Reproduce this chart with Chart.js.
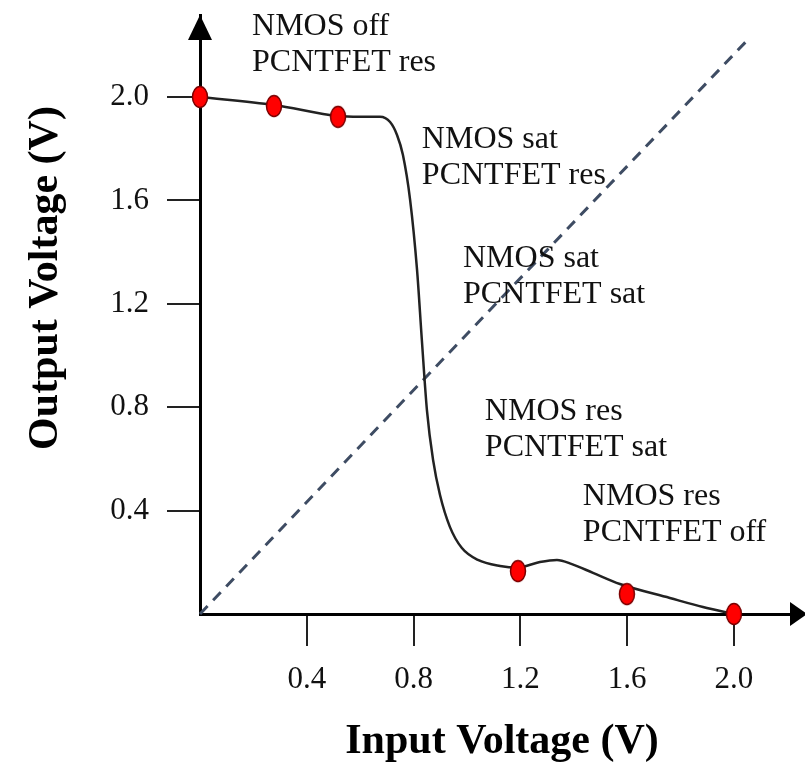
<!DOCTYPE html>
<html lang="en">
<head>
  <meta charset="UTF-8">
  <title>Transfer curve</title>
  <style>
    body { margin: 0; background: #fff; }
  </style>
</head>
<body>
  <canvas id="vtc" width="805" height="765"></canvas>

  <script src="https://cdn.jsdelivr.net/npm/chart.js"></script>
  <script>
    // transfer curve (V)
    const curveIn  = [0, 0.277, 0.517, 0.599, 0.674, 0.712, 0.738, 0.760, 0.787, 0.813, 0.831, 0.850, 0.873, 0.899, 0.936, 0.981, 1.041, 1.124, 1.191, 1.273, 1.337, 1.393, 1.472, 1.573, 1.760, 1.884, 2.0]
    const curveOut = [2.0, 1.969, 1.926, 1.923, 1.923, 1.903, 1.853, 1.776, 1.602, 1.331, 1.060, 0.789, 0.596, 0.460, 0.337, 0.255, 0.209, 0.186, 0.180, 0.201, 0.209, 0.193, 0.159, 0.116, 0.062, 0.027, 0]

    // red markers
    const markerIn  = [0, 0.277, 0.517, 1.191, 1.599, 2.0]
    const markerOut = [2.0, 1.965, 1.923, 0.166, 0.077, 0]

    // dashed reference line
    const diagIn  = [0, 2.06]
    const diagOut = [0, 2.23]

    const xTicks = [0.4, 0.8, 1.2, 1.6, 2.0]
    const yTicks = [0.4, 0.8, 1.2, 1.6, 2.0]

    const regionText = [
      ['NMOS off', 'PCNTFET res'],
      ['NMOS sat', 'PCNTFET res'],
      ['NMOS sat', 'PCNTFET sat'],
      ['NMOS res', 'PCNTFET sat'],
      ['NMOS res', 'PCNTFET off']
    ]

    const toXY = (xs, ys) => xs.map((v, i) => ({ x: v, y: ys[i] }))

    // where each region label starts (data units, first baseline)
    const regionAt = [[0.195, 2.24], [0.831, 1.803], [0.985, 1.342], [1.067, 0.75], [1.434, 0.422]]

    // oval marker like the original
    const oval = document.createElement('canvas')
    oval.width = 18
    oval.height = 24
    {
      const c = oval.getContext('2d')
      c.beginPath()
      c.ellipse(9, 12, 7.5, 10.5, 0, 0, Math.PI * 2)
      c.fillStyle = '#ff0000'
      c.fill()
      c.lineWidth = 1.5
      c.strokeStyle = '#7a0000'
      c.stroke()
    }

    const serif = '"Liberation Serif", "Times New Roman", serif'

    // arrows, axis titles and the region notes
    const decor = {
      id: 'decor',
      afterDatasetsDraw(chart) {
        const { ctx, chartArea: a, scales: { x, y } } = chart
        ctx.save()
        ctx.fillStyle = '#000'
        ctx.beginPath()
        ctx.moveTo(a.left, a.top)
        ctx.lineTo(a.left - 12, a.top + 25)
        ctx.lineTo(a.left + 12, a.top + 25)
        ctx.closePath()
        ctx.fill()
        ctx.beginPath()
        ctx.moveTo(a.right + 17, a.bottom)
        ctx.lineTo(a.right, a.bottom - 12)
        ctx.lineTo(a.right, a.bottom + 12)
        ctx.closePath()
        ctx.fill()

        ctx.fillStyle = '#111'
        ctx.font = '32px ' + serif
        ctx.textAlign = 'left'
        ctx.textBaseline = 'alphabetic'
        regionText.forEach((lines, i) => {
          const px = x.getPixelForValue(regionAt[i][0])
          const py = y.getPixelForValue(regionAt[i][1])
          lines.forEach((t, j) => ctx.fillText(t, px, py + j * 36))
        })

        ctx.fillStyle = '#000'
        ctx.font = 'bold 42px ' + serif
        ctx.textAlign = 'center'
        ctx.textBaseline = 'middle'
        ctx.fillText('Input Voltage (V)', 502, 742)
        ctx.translate(46, 278)
        ctx.rotate(-Math.PI / 2)
        ctx.fillText('Output Voltage (V)', 0, 0)
        ctx.restore()
      }
    }

    // keep the plot box fixed: no extra room for edge labels
    const noPad = s => {
      s.paddingTop = 0
      s.paddingBottom = 0
      s.paddingLeft = 0
      s.paddingRight = 0
    }

    const tickFont = { family: serif, size: 31 }

    new Chart(document.getElementById('vtc'), {
      type: 'scatter',
      data: {
        datasets: [
          {
            data: toXY(markerIn, markerOut),
            pointStyle: oval,
            showLine: false,
            clip: false
          },
          {
            data: toXY(curveIn, curveOut),
            showLine: true,
            borderColor: '#222',
            borderWidth: 2.5,
            pointRadius: 0,
            cubicInterpolationMode: 'monotone',
            clip: false
          },
          {
            data: toXY(diagIn, diagOut),
            showLine: true,
            borderColor: '#3e4c63',
            borderWidth: 3,
            borderDash: [11, 8],
            pointRadius: 0,
            clip: false
          }
        ]
      },
      options: {
        responsive: false,
        animation: false,
        layout: { padding: { left: 0, right: 15, top: 15, bottom: 0 } },
        plugins: { legend: { display: false }, tooltip: { enabled: false } },
        scales: {
          x: {
            type: 'linear',
            min: 0,
            max: 2.21,
            afterFit: s => { s.height = 151; noPad(s) },
            afterBuildTicks: s => { s.ticks = xTicks.map(v => ({ value: v })) },
            border: { display: true, color: '#000', width: 3 },
            grid: { drawOnChartArea: false, drawTicks: true, tickLength: 32, color: '#222', lineWidth: 2 },
            ticks: { color: '#111', font: tickFont, padding: 15, maxRotation: 0, autoSkip: false, callback: v => v.toFixed(1) }
          },
          y: {
            type: 'linear',
            min: 0,
            max: 2.317,
            afterFit: s => { s.width = 200; noPad(s) },
            afterBuildTicks: s => { s.ticks = yTicks.map(v => ({ value: v })) },
            border: { display: true, color: '#000', width: 3 },
            grid: { drawOnChartArea: false, drawTicks: true, tickLength: 33, color: '#222', lineWidth: 2 },
            ticks: { color: '#111', font: tickFont, padding: 18, autoSkip: false, callback: v => v.toFixed(1) }
          }
        }
      },
      plugins: [decor]
    })
  </script>
</body>
</html>
